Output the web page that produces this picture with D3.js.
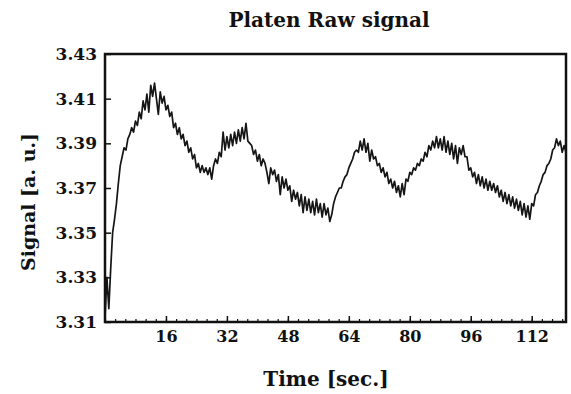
<!DOCTYPE html>
<html>
<head>
<meta charset="utf-8">
<script src="https://cdn.jsdelivr.net/npm/d3@7"></script>
<style>
  body { margin: 0; background: #fff; }
  text { font-family: "DejaVu Serif", serif; font-weight: bold; fill: #111; }
</style>
</head>
<body>
<div id="chart"></div>
<script>
var sampleStep = 0.5;
var signalValues = [
  3.312, 3.330, 3.316, 3.334, 3.350, 3.356, 3.363, 3.372, 3.380, 3.384,
  3.388, 3.387, 3.392, 3.394, 3.397, 3.395, 3.400, 3.398, 3.404, 3.401,
  3.409, 3.405, 3.412, 3.404, 3.416, 3.411, 3.417, 3.410, 3.403, 3.413,
  3.408, 3.411, 3.405, 3.407, 3.402, 3.404, 3.397, 3.399, 3.394, 3.397,
  3.392, 3.394, 3.389, 3.391, 3.386, 3.388, 3.383, 3.385, 3.379, 3.381,
  3.377, 3.380, 3.377, 3.379, 3.376, 3.379, 3.374, 3.380, 3.383, 3.381,
  3.386, 3.384, 3.395, 3.387, 3.393, 3.388, 3.394, 3.389, 3.395, 3.390,
  3.396, 3.391, 3.397, 3.392, 3.399, 3.391, 3.390, 3.389, 3.385, 3.387,
  3.382, 3.385, 3.380, 3.383, 3.381, 3.377, 3.372, 3.379, 3.376, 3.378,
  3.373, 3.376, 3.367, 3.375, 3.370, 3.374, 3.369, 3.371, 3.364, 3.369,
  3.365, 3.368, 3.362, 3.367, 3.359, 3.366, 3.360, 3.365, 3.359, 3.364,
  3.358, 3.365, 3.359, 3.363, 3.357, 3.363, 3.358, 3.361, 3.355, 3.358,
  3.363, 3.366, 3.368, 3.370, 3.370, 3.373, 3.375, 3.376, 3.379, 3.381,
  3.383, 3.386, 3.387, 3.386, 3.391, 3.387, 3.392, 3.386, 3.390, 3.382,
  3.387, 3.383, 3.384, 3.380, 3.381, 3.377, 3.379, 3.375, 3.377, 3.372,
  3.374, 3.370, 3.373, 3.368, 3.371, 3.366, 3.372, 3.367, 3.374, 3.373,
  3.377, 3.376, 3.379, 3.378, 3.381, 3.380, 3.383, 3.382, 3.386, 3.384,
  3.389, 3.387, 3.391, 3.388, 3.393, 3.388, 3.392, 3.387, 3.393, 3.386,
  3.391, 3.385, 3.390, 3.383, 3.389, 3.381, 3.388, 3.385, 3.389, 3.384,
  3.384, 3.378, 3.379, 3.375, 3.377, 3.372, 3.376, 3.371, 3.375, 3.370,
  3.374, 3.369, 3.373, 3.369, 3.372, 3.368, 3.371, 3.366, 3.369, 3.364,
  3.368, 3.363, 3.367, 3.362, 3.366, 3.361, 3.365, 3.360, 3.364, 3.358,
  3.363, 3.357, 3.362, 3.356, 3.363, 3.362, 3.367, 3.368, 3.371, 3.373,
  3.376, 3.377, 3.380, 3.381, 3.383, 3.387, 3.388, 3.392, 3.389, 3.391,
  3.386, 3.389, 3.386
];

// tick labels
var xTicks = [16, 32, 48, 64, 80, 96, 112];
var yTicks = [3.31, 3.33, 3.35, 3.37, 3.39, 3.41, 3.43];

var titleText = "Platen Raw signal";
var xLabel = "Time [sec.]";
var yLabel = "Signal [a. u.]";

var drawChart = function(){

  const width = 571;
  const height = 394;
  var margin = {top: 54, right: 5, bottom: 72, left: 105};
  var innerW = width - margin.left - margin.right;
  var innerH = height - margin.top - margin.bottom;

  var svg = d3.select('#chart')
    .append('svg')
    .attr('width', width)
    .attr('height', height);

  var x = d3.scaleLinear().domain([0, 121]).range([0, innerW]);
  var y = d3.scaleLinear().domain([3.31, 3.43]).range([innerH, 0]);

  var g = svg.append('g')
    .attr('transform', 'translate(' + margin.left + ',' + margin.top + ')');

  g.append('clipPath').attr('id', 'plot-clip')
    .append('rect').attr('width', innerW).attr('height', innerH);

  // signal trace
  var line = d3.line()
    .x(function(d, i){ return x(i * sampleStep); })
    .y(function(d){ return y(d); });

  g.append('path')
    .datum(signalValues)
    .attr('clip-path', 'url(#plot-clip)')
    .attr('fill', 'none')
    .attr('stroke', '#151515')
    .attr('stroke-width', 1.7)
    .attr('stroke-linejoin', 'round')
    .attr('d', line);

  // minor ticks along the bottom
  var minorTicks = [];
  for (var m = 0; m <= 121; m += 16 / 6) minorTicks.push(m);
  g.append('g')
    .attr('transform', 'translate(0,' + innerH + ')')
    .call(d3.axisBottom(x).tickValues(minorTicks).tickSize(-3).tickFormat(''))
    .call(function(a){ a.select('.domain').remove(); a.selectAll('line').attr('stroke', '#111').attr('stroke-width', 1.2); });

  // x axis
  g.append('g')
    .attr('transform', 'translate(0,' + innerH + ')')
    .call(d3.axisBottom(x).tickValues(xTicks).tickSize(-6).tickPadding(9))
    .call(function(a){
      a.select('.domain').remove();
      a.selectAll('line').attr('stroke', '#111').attr('stroke-width', 1.5);
      a.selectAll('text').style('font-size', '16px').attr('fill', '#111');
    });

  // y axis
  g.append('g')
    .call(d3.axisLeft(y).tickValues(yTicks).tickSize(-6).tickPadding(8).tickFormat(d3.format('.2f')))
    .call(function(a){
      a.select('.domain').remove();
      a.selectAll('line').attr('stroke', '#111').attr('stroke-width', 1.5);
      a.selectAll('text').style('font-size', '17px').attr('fill', '#111');
    });

  // frame
  g.append('rect')
    .attr('width', innerW)
    .attr('height', innerH)
    .attr('fill', 'none')
    .attr('stroke', '#111')
    .attr('stroke-width', 2.5);

  // titles
  svg.append('text')
    .attr('x', 329).attr('y', 27)
    .attr('text-anchor', 'middle')
    .style('font-size', '20px')
    .text(titleText);

  svg.append('text')
    .attr('x', 326).attr('y', 386)
    .attr('text-anchor', 'middle')
    .style('font-size', '20px')
    .text(xLabel);

  svg.append('text')
    .attr('transform', 'translate(35,202) rotate(-90)')
    .attr('text-anchor', 'middle')
    .style('font-size', '19px')
    .text(yLabel);
}

drawChart();
</script>
</body>
</html>
